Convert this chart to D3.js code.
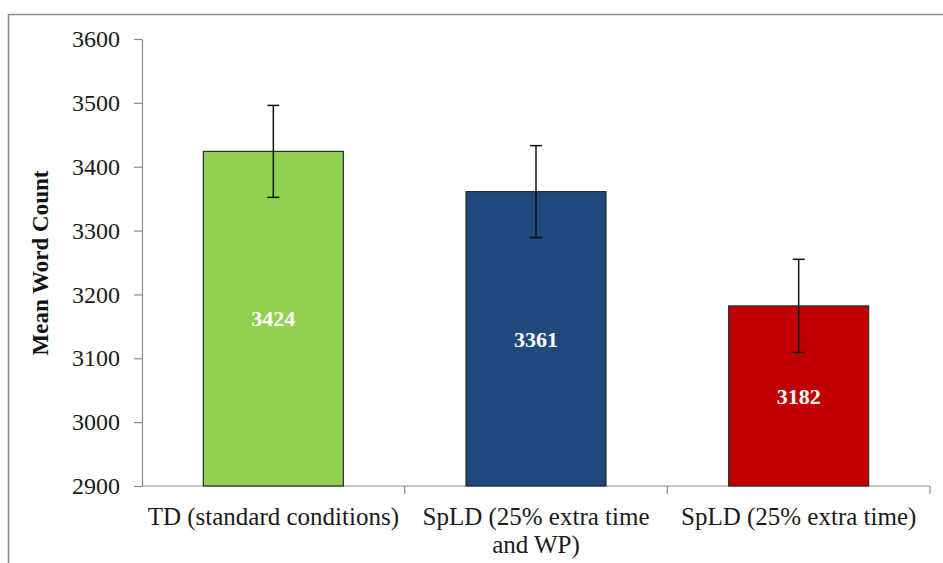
<!DOCTYPE html>
<html>
<head>
<meta charset="utf-8">
<script src="https://cdn.jsdelivr.net/npm/d3@7"></script>
<style>
  html, body { margin: 0; padding: 0; background: #fff; }
  svg { display: block; }
  svg text { font-family: "Liberation Serif", "Times New Roman", Times, "DejaVu Serif", serif; }
</style>
</head>
<body>
<svg id="chart" width="943" height="563"></svg>
<script>
// ---- data ----
const categories = ["TD (standard conditions)", "SpLD (25% extra time and WP)", "SpLD (25% extra time)"];
const categoryLines = [["TD (standard conditions)"], ["SpLD (25% extra time", "and WP)"], ["SpLD (25% extra time)"]];
const meanValues = [3424, 3361, 3182];
const errorValues = [72, 72, 73];
const barColors = ["#92D050", "#1F497D", "#C00000"];
const yTicks = [2900, 3000, 3100, 3200, 3300, 3400, 3500, 3600];
const yTitle = "Mean Word Count";

// ---- layout ----
const svg = d3.select("#chart");
const margin = { left: 142, right: 943 - 930, top: 39, bottom: 563 - 486 };
const plotW = 943 - margin.left - margin.right;
const plotH = 563 - margin.top - margin.bottom;
const font = '"Liberation Serif", "Times New Roman", Times, "DejaVu Serif", serif';
const axisColor = "#8c8c8c";

// outer frame
svg.append("rect")
  .attr("x", 8.5).attr("y", 14.5)
  .attr("width", 960).attr("height", 600)
  .attr("fill", "none").attr("stroke", "#8a8a8a").attr("stroke-width", 1.5);

const g = svg.append("g").attr("transform", `translate(${margin.left},${margin.top})`);

const x = d3.scaleBand().domain(categories).range([0, plotW])
  .paddingInner(0.467).paddingOuter(0.2335);
const xOuter = d3.scaleBand().domain(categories).range([0, plotW]).padding(0);
const y = d3.scaleLinear().domain([2900, 3600]).range([plotH, 0]);

// y axis
const yAxis = g.append("g")
  .call(d3.axisLeft(y).tickValues(yTicks).tickFormat(d3.format("d"))
    .tickSize(8).tickPadding(14).tickSizeOuter(0));
yAxis.attr("font-family", null).attr("font-size", null);
yAxis.select(".domain").attr("stroke", axisColor).attr("stroke-width", 1.2);
yAxis.selectAll(".tick line").attr("stroke", axisColor).attr("stroke-width", 1.2);
yAxis.selectAll(".tick text")
  .style("font-family", font).style("font-size", "24px").attr("fill", "#1a1a1a");

// x axis line + boundary ticks
const xAxisG = g.append("g").attr("transform", `translate(0,${plotH})`);
xAxisG.append("line").attr("x1", 0).attr("x2", plotW).attr("y1", 0).attr("y2", 0)
  .attr("stroke", axisColor).attr("stroke-width", 1.2);
const boundaries = categories.map(c => xOuter(c) + xOuter.bandwidth());
xAxisG.selectAll("line.bt").data(boundaries).enter().append("line")
  .attr("class", "bt")
  .attr("x1", d => d).attr("x2", d => d).attr("y1", 0).attr("y2", 8)
  .attr("stroke", axisColor).attr("stroke-width", 1.2);

// x labels
const xl = xAxisG.selectAll("text.xl").data(categories).enter().append("text")
  .attr("class", "xl")
  .attr("x", d => x(d) + x.bandwidth() / 2)
  .attr("y", 39)
  .attr("text-anchor", "middle")
  .style("font-family", font).style("font-size", "25px").attr("fill", "#1a1a1a");
xl.each(function(d, i) {
  const t = d3.select(this);
  categoryLines[i].forEach((line, j) => {
    t.append("tspan").attr("x", x(d) + x.bandwidth() / 2).attr("dy", j === 0 ? 0 : 28).text(line);
  });
});

// bars
g.selectAll("rect.bar").data(categories).enter().append("rect")
  .attr("class", "bar")
  .attr("x", d => x(d))
  .attr("y", (d, i) => y(meanValues[i]))
  .attr("width", x.bandwidth())
  .attr("height", (d, i) => y(2900) - y(meanValues[i]))
  .attr("fill", (d, i) => barColors[i])
  .attr("stroke", "#2a2a2a").attr("stroke-width", 1.2);

// value labels
g.selectAll("text.val").data(categories).enter().append("text")
  .attr("class", "val")
  .attr("x", d => x(d) + x.bandwidth() / 2)
  .attr("y", (d, i) => (y(meanValues[i]) + y(2900)) / 2)
  .attr("dy", "0.35em")
  .attr("text-anchor", "middle")
  .style("font-family", font).style("font-size", "22px").style("font-weight", "bold")
  .attr("fill", "#ffffff")
  .text((d, i) => meanValues[i]);

// error bars
const capHalf = 6;
const eb = g.selectAll("g.eb").data(categories).enter().append("g").attr("class", "eb");
eb.append("line")
  .attr("x1", d => x(d) + x.bandwidth() / 2).attr("x2", d => x(d) + x.bandwidth() / 2)
  .attr("y1", (d, i) => y(meanValues[i] + errorValues[i]))
  .attr("y2", (d, i) => y(meanValues[i] - errorValues[i]))
  .attr("stroke", "#111").attr("stroke-width", 1.5);
[1, -1].forEach(s => {
  eb.append("line")
    .attr("x1", d => x(d) + x.bandwidth() / 2 - capHalf).attr("x2", d => x(d) + x.bandwidth() / 2 + capHalf)
    .attr("y1", (d, i) => y(meanValues[i] + s * errorValues[i]))
    .attr("y2", (d, i) => y(meanValues[i] + s * errorValues[i]))
    .attr("stroke", "#111").attr("stroke-width", 1.5);
});

// y title
svg.append("text")
  .attr("transform", `translate(48,263) rotate(-90)`)
  .attr("text-anchor", "middle")
  .style("font-family", font).style("font-size", "23px").style("font-weight", "bold")
  .attr("fill", "#111")
  .text(yTitle);
</script>
</body>
</html>
